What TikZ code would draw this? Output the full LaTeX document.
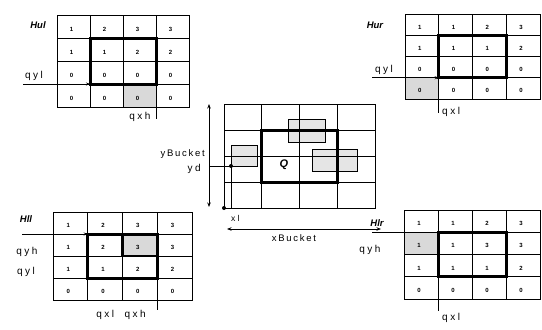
\documentclass[tikz,border=0pt]{standalone}
\usepackage{fontspec}
\setmainfont{Liberation Sans}
\newfontfamily\lblfont[LetterSpace=25]{Liberation Sans}
\newfontfamily\bktfont[LetterSpace=18]{Liberation Sans}
\usetikzlibrary{arrows.meta,backgrounds}
\newcommand{\hgrid}[6]{%
  \foreach \rowvals [count=\r] in {#6} {
    \foreach \v [count=\c] in \rowvals {
      \node[gridcell, minimum width=#4pt, minimum height=#5pt] (#1-\r-\c) at ({#2+(\c-0.5)*#4}, {#3+(\r-0.5)*#5}) {};
      \node[digit] (#1-d\r-\c) at ([xshift=-2pt,yshift=-2.5pt]#1-\r-\c.center) {\v};
    }
  }
}
\begin{document}
\begin{tikzpicture}[x=1pt,y=-1pt,
  gridcell/.style={draw, line width=0.8pt, inner sep=0pt, outer sep=0pt},
  digit/.style={font=\fontsize{6}{6}\selectfont\bfseries, inner sep=0pt},
  qbox/.style={line width=3pt},
  shadebox/.style={fill=gray!30},
  lbl/.style={font=\fontsize{10}{10}\selectfont\lblfont, inner sep=0pt},
  bkt/.style={font=\fontsize{9.5}{9.5}\selectfont\bktfont, inner sep=0pt},
  hname/.style={font=\fontsize{9.5}{9.5}\selectfont\bfseries\itshape, inner sep=0pt},
  arr/.style={line width=1pt, -{Stealth[length=4pt,width=3pt]}},
  dblarr/.style={line width=1pt, {Stealth[length=4.5pt,width=3.5pt]}-{Stealth[length=4.5pt,width=3.5pt]}},
  ln/.style={line width=1pt},
  smallrect/.style={draw, line width=0.7pt, fill=gray!20, inner sep=0pt, outer sep=0pt},
]
\useasboundingbox (0,0) rectangle (542,330);

% ---------- Hul ----------
\hgrid{ul}{57}{15}{33}{23}{{1,2,3,3},{1,1,2,2},{0,0,0,0},{0,0,0,0}}
\begin{pgfonlayer}{background}
  \fill[shadebox] (ul-4-3.north west) rectangle (ul-4-3.south east);
\end{pgfonlayer}
\draw[qbox] (ul-2-2.north west) rectangle (ul-3-3.south east);
\node[hname] (ulname) at (38,25) {Hul};
\coordinate (ulqyl) at (23,84);
\draw[arr] (ulqyl) -- (ul-3-2.south west);
\node[lbl] (ulqyllbl) at (34,76) {qyl};
\coordinate (ulqxh) at (156,119);
\draw[ln] (ul-3-3.south east) -- (ulqxh);
\node[lbl] (ulqxhlbl) at (140,117) {qxh};

% ---------- Hur ----------
\hgrid{ur}{405}{14}{33.75}{21.25}{{1,1,2,3},{1,1,1,2},{0,0,0,0},{0,0,0,0}}
\begin{pgfonlayer}{background}
  \fill[shadebox] (ur-4-1.north west) rectangle (ur-4-1.south east);
\end{pgfonlayer}
\draw[qbox] (ur-2-2.north west) rectangle (ur-3-3.south east);
\node[hname] (urname) at (375,25) {Hur};
\coordinate (urqyl) at (372,77.75);
\draw[arr] (urqyl) -- (ur-3-2.south west);
\node[lbl] (urqyllbl) at (384,70) {qyl};
\coordinate (urqxl) at (438.75,113);
\draw[ln] (ur-3-2.south west) -- (urqxl);
\node[lbl, anchor=west] (urqxllbl) at (442,112) {qxl};

% ---------- Hll ----------
\hgrid{ll}{53}{212}{34.75}{22}{{1,2,3,3},{1,2,3,3},{1,1,2,2},{0,0,0,0}}
\begin{pgfonlayer}{background}
  \fill[shadebox] (ll-2-3.north west) rectangle (ll-2-3.south east);
\end{pgfonlayer}
\draw[line width=2.2pt] (ll-2-3.north west) rectangle (ll-2-3.south east);
\draw[qbox] (ll-2-2.north west) rectangle (ll-3-3.south east);
\node[hname] (llname) at (26,219) {Hll};
\coordinate (llqyh) at (22,234);
\draw[arr] (llqyh) -- (ll-2-2.north west);
\node[lbl] (llqyhlbl) at (27,252) {qyh};
\node[lbl] (llqyllbl) at (26,272) {qyl};
\coordinate (llqxh) at (157.25,310);
\draw[ln] (ll-3-3.south east) -- (llqxh);
\node[lbl] (llqxlbl) at (121,315) {qxl\ \ qxh};

% ---------- Hlr ----------
\hgrid{lr}{404}{210}{34}{22.25}{{1,1,2,3},{1,1,3,3},{1,1,1,2},{0,0,0,0}}
\begin{pgfonlayer}{background}
  \fill[shadebox] (lr-2-1.north west) rectangle (lr-2-1.south east);
\end{pgfonlayer}
\draw[qbox] (lr-2-2.north west) rectangle (lr-3-3.south east);
\node[hname] (lrname) at (377,223) {Hlr};
\coordinate (lrqyh) at (372,232.25);
\draw[ln] (lrqyh) -- (lr-2-2.north west);
\node[lbl] (lrqyhlbl) at (370,250) {qyh};
\coordinate (lrqxl) at (438,311);
\draw[ln] (lr-3-2.south west) -- (lrqxl);
\node[lbl, anchor=west] (lrqxllbl) at (442,318) {qxl};

% ---------- centre grid ----------
\begin{pgfonlayer}{background}
  \node[smallrect, minimum width=37pt, minimum height=23pt] (ra) at (306.5,130.5) {};
  \node[smallrect, minimum width=26pt, minimum height=21pt] (rb) at (244,155.5) {};
  \node[smallrect, minimum width=45pt, minimum height=22pt] (rc) at (334.5,160) {};
\end{pgfonlayer}
\foreach \r in {1,...,4} {
  \foreach \c in {1,...,4} {
    \node[gridcell, minimum width=37.75pt, minimum height=26pt] (m-\r-\c) at ({224+(\c-0.5)*37.75}, {104+(\r-0.5)*26}) {};
  }
}
\draw[qbox] (m-2-2.north west) rectangle (m-3-3.south east);
\node[font=\fontsize{11}{11}\selectfont\bfseries\itshape, inner sep=0pt] (qlbl) at (284,165) {Q};
\fill (m-4-1.south west) circle (2);
\fill (rb.south west) circle (2);
\coordinate (ydstart) at (209,166);
\draw[ln] (ydstart) -- (rb.south west);
\coordinate (xlend) at (rb.south west |- m-4-1.south);
\draw[ln] (rb.south west) -- (xlend);
\coordinate (ybtop) at (209,104);
\coordinate (ybbot) at (209,207);
\draw[dblarr] (ybtop) -- (ybbot);
\coordinate (xbl) at (227,229);
\coordinate (xbr) at (381,229);
\draw[dblarr] (xbl) -- (xbr);
\node[bkt, anchor=east] (yblbl) at (205,154) {yBucket};
\node[lbl, anchor=east] (ydlbl) at (201,169) {yd};
\node[lbl, anchor=west, font=\fontsize{8.5}{8.5}\selectfont\lblfont] (xllbl) at (231,218) {xl};
\node[bkt] (xblbl) at (294,238) {xBucket};
\end{tikzpicture}
\end{document}
